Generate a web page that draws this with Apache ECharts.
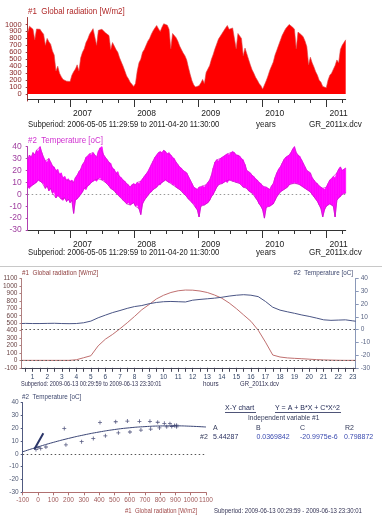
<!DOCTYPE html>
<html><head><meta charset="utf-8">
<script src="https://cdn.jsdelivr.net/npm/echarts@6/dist/echarts.min.js"></script>
<style>html,body{margin:0;padding:0;background:#fff}#c{width:391px;height:522px}</style>
</head><body><div id="c"></div>
<script>
// ---------- DATA ----------
const periodStart = 2006.34;   // 2006-05-05
const periodEnd = 2011.30;     // 2011-04-20
const yearLabels = [2007, 2008, 2009, 2010, 2011];
const quarterTicks = [2006.5, 2006.75, 2007.25, 2007.5, 2007.75, 2008.25, 2008.5, 2008.75, 2009.25, 2009.5, 2009.75, 2010.25, 2010.5, 2010.75, 2011.25];

// Global radiation [W/m2], ~10-day steps over the subperiod
const radValues = [
 880,975,960,930,780,935,920,930,890,860,
 700,800,750,715,620,560,330,400,300,250,
 210,200,185,190,180,270,320,360,420,330,
 520,600,650,740,790,860,900,940,920,700,
 915,900,930,940,880,880,840,640,740,720,
 640,600,520,460,400,330,260,220,170,140,
 110,150,330,450,500,600,640,700,760,800,
 860,910,950,985,940,900,960,1010,1015,990,
 930,650,870,850,810,760,690,640,590,550,
 490,380,280,190,130,100,80,120,160,210,
 150,310,360,410,500,570,650,720,790,830,
 870,890,950,985,930,915,950,930,650,870,
 860,800,550,660,580,500,420,350,300,240,
 200,150,120,70,50,190,260,340,400,460,
 560,630,700,770,840,890,940,960,1000,1020,
 960,930,650,890,870,850,820,760,680,420,
 530,450,390,320,270,200,170,110,85,90,
 200,270,300,320,410,490,450,640,700,740,780
];
// Temperature [oC] high / low in the same ~10-day steps
const tempHigh = [
 29,33,31,35,33,37,36,40,35,31,
 28,27,30,27,24,23,20,21,17,18,
 14,15,12,13,11,12,10,14,16,19,
 21,25,27,31,32,34,33,35,33,31,
 36,39,40,33,31,29,27,26,22,21,
 18,19,15,14,12,11,9,8,6,8,
 9,8,10,9,11,13,15,17,19,22,
 25,28,31,33,35,36,35,37,36,34,
 35,33,31,30,27,25,23,22,20,19,
 18,15,12,9,6,5,4,6,6,7,
 6,8,10,12,16,22,27,29,28,30,
 31,32,33,34,33,35,36,35,33,33,
 32,30,29,25,20,19,18,16,15,13,
 12,10,9,7,6,6,5,4,7,9,
 14,18,21,23,26,29,31,32,33,35,
 38,40,35,33,32,29,26,23,20,19,
 18,14,12,10,9,7,6,5,4,6,
 9,12,13,15,14,18,21,23,20,21,22
];
const tempLow = [
 6,5,7,8,9,10,12,11,10,9,
 5,7,3,5,1,2,-3,-1,-2,-4,
 -5,-3,-6,-4,-7,-5,-16,-5,-4,-2,
 0,2,5,4,7,8,10,11,12,11,
 13,14,12,12,10,9,7,5,4,3,
 1,0,-2,-3,-5,-6,-8,-7,-9,-8,
 -7,-10,-9,-12,-17,-8,-5,-3,-1,1,
 2,4,5,6,8,8,10,11,12,11,
 10,10,8,8,6,5,4,3,1,0,
 -2,-4,-5,-7,-8,-11,-13,-19,-10,-9,
 -9,-8,-7,-5,-2,0,3,6,8,9,
 9,10,11,10,12,12,11,11,10,10,
 9,8,6,6,5,3,2,1,0,-3,
 -5,-8,-10,-13,-20,-11,-10,-10,-9,-8,
 -5,-2,0,2,3,4,5,6,8,9,
 9,10,9,9,8,7,6,5,4,3,
 2,0,-2,-4,-6,-9,-12,-19,-13,-10,
 -9,-8,-9,-10,-19,-5,-3,-2,0,1,1
];

// Daily profile 2009-06-13
const hourX = [0.25,0.5,1,1.5,2,2.5,3,3.5,4,4.5,5,5.5,6,6.5,7,7.5,8,8.5,9,9.5,10,10.5,11,11.5,12,12.5,13,13.5,14,14.5,15,15.5,16,16.5,17,17.5,18,18.5,19,19.5,20,20.5,21,21.5,22,22.5,23,23.2];
const radHour = [0,0,0,0,0,0,0,0,8,35,62,195,285,350,425,505,590,680,750,825,875,912,935,945,943,932,912,878,835,772,695,610,525,405,245,72,45,33,27,22,16,10,6,3,1,0,0,0];
const tempHour = [4.7,4.8,4.7,4.7,4.8,4.9,4.7,4.6,4.7,5.3,6.6,9.2,11.3,13.3,14.9,16.6,18.0,18.8,20.2,21.2,21.8,22.0,21.8,21.6,23.0,23.6,24.1,24.6,25.3,26.2,26.9,27.3,26.9,25.8,22.0,17.5,15.2,13.9,12.7,11.4,10.3,9.0,7.6,7.2,7.4,7.6,6.8,6.5];
const hourLabels = [1,2,3,4,5,6,7,8,9,10,11,12,13,14,15,16,17,18,19,20,21,22,23];
const hourTicks = [0.5,1,1.5,2,2.5,3,3.5,4,4.5,5,5.5,6,6.5,7,7.5,8,8.5,9,9.5,10,10.5,11,11.5,12,12.5,13,13.5,14,14.5,15,15.5,16,16.5,17,17.5,18,18.5,19,19.5,20,20.5,21,21.5,22,22.5,23];

// X-Y chart: temperature vs global radiation
const scatRad  = [406,172,183,286,362,441,509,526,585,602,664,674,733,738,784,795,827,843,864,876,893,908,908,52,18,-13,0];
const scatTemp = [24.5,19.8,7,9.5,12,14,25,16.4,25.5,17,25.3,18.5,25.3,19.3,24.6,20.2,23.8,21,23.5,21.3,22,21,22.3,5.3,4.2,3.4,4.8];
const fitRad  = [-100,0,100,200,300,400,500,600,700,800,900,1000,1100];
const fitTemp = [1.6,5.4,8.9,12.0,14.7,17.0,18.9,20.3,21.2,21.7,21.8,21.5,20.9];
const strokeRad = [-24,35];
const strokeTemp = [3.5,16];

// ---------- BUILD ----------
const F = '"Liberation Sans",Arial,sans-serif';
const n = radValues.length;
const step = (periodEnd - periodStart) / (n - 1);
const xs = radValues.map((v, i) => periodStart + i * step);
const radData = radValues.map((v, i) => [xs[i], v]);
const bandItems = xs.map((x, i) => [x, tempLow[i], tempHigh[i]]);
const zeroLine = (color, z) => ({silent: true, z: z, symbol: ['none', 'none'], label: {show: false},
  lineStyle: {type: [1.5, 2.5], color: color, width: 1}, data: [{yAxis: 0}]});
const plain = v => String(v);

function yearAxis(grid, offset) {
  return [{
    type: 'value', gridIndex: grid, min: periodStart, max: periodEnd, position: 'bottom', offset: offset,
    axisLine: {onZero: false, lineStyle: {color: '#333', width: 1}},
    axisTick: {customValues: yearLabels, length: 8, lineStyle: {color: '#333'}},
    axisLabel: {customValues: yearLabels, formatter: v => String(Math.round(v)), color: '#222',
      fontSize: 8.5, fontFamily: F, align: 'left', padding: [0, 0, 0, 3], margin: 10},
    splitLine: {show: false}
  }, {
    type: 'value', gridIndex: grid, min: periodStart, max: periodEnd, position: 'bottom', offset: offset,
    axisLine: {show: false, onZero: false},
    axisTick: {customValues: quarterTicks, length: 4, lineStyle: {color: '#333'}},
    axisLabel: {show: false}, splitLine: {show: false}
  }];
}

// [x, y, text, size, color, align, scaleX]
const texts = [
  [28, 11, '#1  Global radiation [W/m2]', 9.5, '#b02828', 'left', 0.84],
  [28, 124, 'Subperiod: 2006-05-05 11:29:59 to 2011-04-20 11:30:00', 9.5, '#222', 'left', 0.81],
  [256, 124, 'years', 9.5, '#222', 'left', 0.85],
  [309, 124, 'GR_2011x.dcv', 9.5, '#222', 'left', 0.85],
  [28, 140, '#2  Temperature [oC]', 9.5, '#d030d0', 'left', 0.84],
  [28, 252.5, 'Subperiod: 2006-05-05 11:29:59 to 2011-04-20 11:30:00', 9.5, '#222', 'left', 0.81],
  [256, 252.5, 'years', 9.5, '#222', 'left', 0.85],
  [309, 252.5, 'GR_2011x.dcv', 9.5, '#222', 'left', 0.85],
  [22, 273, '#1  Global radiation [W/m2]', 7, '#904040', 'left', 0.9],
  [353, 273, '#2  Temperature [oC]', 7, '#404a70', 'right', 0.9],
  [21, 384, 'Subperiod: 2009-06-13 00:29:59 to 2009-06-13 23:30:01', 7, '#333355', 'left', 0.8],
  [203, 384, 'hours', 7, '#333355', 'left', 0.9],
  [240, 384, 'GR_2011x.dcv', 7, '#333355', 'left', 0.85],
  [22, 397.5, '#2  Temperature [oC]', 7, '#404a70', 'left', 0.9],
  [125, 511.5, '#1  Global radiation [W/m2]', 7, '#a04848', 'left', 0.85],
  [214, 511.5, 'Subperiod: 2009-06-13 00:29:59 - 2009-06-13 23:30:01', 7, '#333355', 'left', 0.86],
  [225, 408.5, 'X-Y chart', 7, '#222a55', 'left', 1],
  [275, 408.5, 'Y = A + B*X + C*X^2', 7, '#222a55', 'left', 1],
  [248, 418.5, 'Independent variable #1', 7, '#333a5a', 'left', 0.95],
  [213, 428, 'A', 7, '#333a5a', 'left', 1],
  [256, 428, 'B', 7, '#333a5a', 'left', 1],
  [300, 428, 'C', 7, '#333a5a', 'left', 1],
  [345, 428, 'R2', 7, '#333a5a', 'left', 1],
  [200, 437.5, '#2', 7, '#333a5a', 'left', 1],
  [213, 437.5, '5.44287', 7, '#2a3060', 'left', 1],
  [256.5, 437.5, '0.0369842', 7, '#3a4ab0', 'left', 1],
  [300, 437.5, '-20.9975e-6', 7, '#3a4ab0', 'left', 1],
  [344, 437.5, '0.798872', 7, '#3a4ab0', 'left', 1]
];
const graphic = texts.map(t => ({type: 'text', x: t[0], y: t[1], scaleX: t[6], silent: true,
  style: {text: t[2], fontSize: t[3], fontFamily: F, fill: t[4], align: t[5], verticalAlign: 'middle'}}));
graphic.push({type: 'line', silent: true, shape: {x1: 0, y1: 266.5, x2: 382, y2: 266.5}, style: {stroke: '#c8c8c8', lineWidth: 1}});
graphic.push({type: 'line', silent: true, shape: {x1: 225, y1: 412.5, x2: 256, y2: 412.5}, style: {stroke: '#222a55', lineWidth: 0.8}});
graphic.push({type: 'line', silent: true, shape: {x1: 275, y1: 412.5, x2: 341, y2: 412.5}, style: {stroke: '#222a55', lineWidth: 0.8}});

const plusPath = 'path://M1.6,0h0.8v1.6h1.6v0.8h-1.6v1.6h-0.8v-1.6h-1.6v-0.8h1.6z';

function renderBand(params, api) {
  const i = params.dataIndex;
  if (i >= bandItems.length - 1) return null;
  const a = bandItems[i], b = bandItems[i + 1];
  const pts = [api.coord([a[0], a[2]]), api.coord([b[0], b[2]]), api.coord([b[0], b[1]]), api.coord([a[0], a[1]])];
  return {type: 'polygon', shape: {points: pts}, style: {fill: '#ff00ff', stroke: '#ff00ff', lineWidth: 0.6}};
}

const option = {
  animation: false,
  backgroundColor: '#fff',
  grid: [
    {left: 27.7, top: 17.5, width: 318, height: 83.5},
    {left: 27.7, top: 146.7, width: 318, height: 83.3},
    {left: 21, top: 278.5, width: 334.7, height: 89.3},
    {left: 22.7, top: 402.5, width: 183.3, height: 89.8}
  ],
  xAxis: [
    ...yearAxis(0, -2),
    ...yearAxis(1, 0),
    {type: 'value', gridIndex: 2, min: 0.23, max: 23.2, position: 'bottom',
      axisLine: {onZero: false, lineStyle: {color: '#445', width: 1}},
      axisTick: {customValues: hourTicks, length: 4, lineStyle: {color: '#445'}},
      axisLabel: {customValues: hourLabels, color: '#334466', fontSize: 6.5, fontFamily: F, margin: 6},
      splitLine: {show: false}},
    {type: 'value', gridIndex: 3, min: -100, max: 1100, interval: 100, position: 'bottom',
      axisLine: {onZero: false, lineStyle: {color: '#b07070', width: 1}},
      axisTick: {length: 3, lineStyle: {color: '#b07070'}},
      axisLabel: {color: '#a05a5a', fontSize: 6.5, fontFamily: F, margin: 4, formatter: plain},
      splitLine: {show: false}}
  ],
  yAxis: [
    {type: 'value', gridIndex: 0, min: -100, max: 1100, interval: 100,
      axisLine: {show: true, onZero: false, lineStyle: {color: '#a03a3a'}}, axisTick: {show: true, length: 2, lineStyle: {color: '#a03a3a'}},
      axisLabel: {color: '#8a2a2a', fontSize: 7.5, fontFamily: F, margin: 6, formatter: plain}, splitLine: {show: false}},
    {type: 'value', gridIndex: 1, min: -30, max: 40, interval: 10,
      axisLine: {show: true, onZero: false, lineStyle: {color: '#b040b0'}}, axisTick: {show: true, length: 2, lineStyle: {color: '#b040b0'}},
      axisLabel: {color: '#a040a0', fontSize: 8.5, fontFamily: F, margin: 6, formatter: plain}, splitLine: {show: false}},
    {type: 'value', gridIndex: 2, min: -100, max: 1100, interval: 100, position: 'left',
      axisLine: {show: true, onZero: false, lineStyle: {color: '#b08080'}}, axisTick: {show: true, length: 2, lineStyle: {color: '#b08080'}},
      axisLabel: {color: '#6a4444', fontSize: 6.5, fontFamily: F, margin: 4, formatter: plain}, splitLine: {show: false}},
    {type: 'value', gridIndex: 2, min: -30, max: 40, interval: 10, position: 'right',
      axisLine: {show: true, onZero: false, lineStyle: {color: '#8a98b8'}}, axisTick: {show: true, length: 3, lineStyle: {color: '#8a98b8'}},
      axisLabel: {color: '#5a6585', fontSize: 6.5, fontFamily: F, margin: 5, formatter: plain}, splitLine: {show: false}},
    {type: 'value', gridIndex: 3, min: -30, max: 40, interval: 10,
      axisLine: {show: true, onZero: false, lineStyle: {color: '#505a80'}}, axisTick: {show: true, length: 2, lineStyle: {color: '#505a80'}},
      axisLabel: {color: '#505a75', fontSize: 6.5, fontFamily: F, margin: 4, formatter: plain}, splitLine: {show: false}}
  ],
  series: [
    {type: 'line', xAxisIndex: 0, yAxisIndex: 0, data: radData, showSymbol: false, silent: true,
      lineStyle: {color: '#d84848', width: 0.6}, areaStyle: {color: '#ff0000', opacity: 1}},
    {type: 'line', xAxisIndex: 2, yAxisIndex: 1, data: [[periodStart, 0]], showSymbol: false, silent: true, z: 1,
      lineStyle: {width: 0}, markLine: zeroLine('#999', 1)},
    {type: 'custom', xAxisIndex: 2, yAxisIndex: 1, data: bandItems, renderItem: renderBand, silent: true, z: 3,
      encode: {x: 0, y: [1, 2]}},
    {type: 'line', xAxisIndex: 2, yAxisIndex: 1, data: xs.map((x, i) => [x, tempHigh[i]]), showSymbol: false, silent: true, z: 4,
      lineStyle: {color: '#d020d0', width: 0.7}},
    {type: 'line', xAxisIndex: 2, yAxisIndex: 1, data: xs.map((x, i) => [x, tempLow[i]]), showSymbol: false, silent: true, z: 4,
      lineStyle: {color: '#c018c0', width: 0.7}},
    {type: 'line', xAxisIndex: 4, yAxisIndex: 2, data: hourX.map((h, i) => [h, radHour[i]]), showSymbol: false, silent: true,
      lineStyle: {color: '#c07070', width: 1}, markLine: zeroLine('#555', 5)},
    {type: 'line', xAxisIndex: 4, yAxisIndex: 3, data: hourX.map((h, i) => [h, tempHour[i]]), showSymbol: false, silent: true,
      lineStyle: {color: '#4a5585', width: 1}, markLine: zeroLine('#555', 5)},
    {type: 'line', xAxisIndex: 5, yAxisIndex: 4, data: fitRad.map((x, i) => [x, fitTemp[i]]), smooth: true, showSymbol: false, silent: true,
      lineStyle: {color: '#3a4575', width: 1}, markLine: zeroLine('#555', 5)},
    {type: 'scatter', xAxisIndex: 5, yAxisIndex: 4, data: scatRad.map((x, i) => [x, scatTemp[i]]), symbol: plusPath, symbolSize: 4, silent: true,
      itemStyle: {color: '#2a3060'}},
    {type: 'line', xAxisIndex: 5, yAxisIndex: 4, data: strokeRad.map((x, i) => [x, strokeTemp[i]]), showSymbol: false, silent: true,
      lineStyle: {color: '#2a3568', width: 2}}
  ],
  graphic: graphic
};
const chart = echarts.init(document.getElementById('c'), null, {renderer: 'canvas'});
chart.setOption(option);
</script>
</body></html>
